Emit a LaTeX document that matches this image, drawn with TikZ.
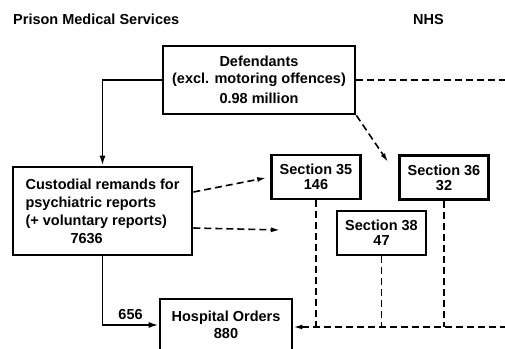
\documentclass[tikz,border=0pt]{standalone}
\usepackage{fontspec}
\setmainfont{Liberation Sans}
\usetikzlibrary{arrows.meta}
\begin{document}
\begin{tikzpicture}[x=1pt,y=-1pt,font=\bfseries\fontsize{14.5}{17}\selectfont,
		bx/.style={draw,line width=2.8pt,align=center,inner sep=0pt},
		sx/.style={bx,minimum width=89pt,minimum height=44pt,
					font=\bfseries\fontsize{14.5}{15}\selectfont},
		ln/.style={line width=1.8pt,-{Latex[length=10pt,width=6pt]}},
		dl/.style={line width=1.6pt,dash pattern=on 7pt off 4pt},
		da/.style={dl,-{Latex[length=9pt,width=5pt]}}]
	\useasboundingbox (0,0) rectangle (505,348);
	\clip (0,0) rectangle (505,348);
	\node[anchor=base west,inner sep=0pt] (pms) at (13,24) {Prison Medical Services};
	\node[anchor=base west,inner sep=0pt] (nhs) at (413,24) {NHS};
	\node[bx,minimum width=192pt,minimum height=68pt] (def) at (259,80)
		{Defendants\\(excl. motoring offences)\\[3pt]0.98 million};
	\node[bx,align=left,minimum width=179pt,minimum height=88pt] (cust) at (102.5,211)
		{Custodial remands for\\[1pt]psychiatric reports\\[1pt](+ voluntary reports)\\[1pt]\hspace*{45pt}7636};
	\node[bx,minimum width=132pt,minimum height=52pt] (hosp) at (226,325)
		{Hospital Orders\\880};
	\node[sx] (s35) at (316,177) {Section 35\\146};
	\node[sx] (s36) at (444,177.5) {Section 36\\32};
	\node[sx] (s38) at (381.5,233) {Section 38\\47};
	\coordinate (nhsR) at (507,327);
	\coordinate (s36in) at (388,162);
	\coordinate (open) at (280,230);
	% prison side
	\draw[ln] (def.west) -| (cust.north);
	\draw[ln] (cust.south) |- node[pos=0.75,above,inner sep=4pt] {656} (hosp.west);
	% nhs side
	\draw[dl] (def.east) -- (def.east -| nhsR);
	\draw[da] (def.south east) -- (s36in);
	\draw[da,shorten >=4pt] ([yshift=19pt]cust.east) -- (s35.west);
	\draw[da] ([yshift=-17pt]cust.east) -- (open);
	\draw[da] (nhsR) -- (hosp.east |- nhsR);
	\draw[dl] (s35.south) -- (s35.south |- nhsR);
	\draw[dl] (s38.south) -- (s38.south |- nhsR);
	\draw[dl] (s36.south) -- (s36.south |- nhsR);
\end{tikzpicture}
\end{document}
